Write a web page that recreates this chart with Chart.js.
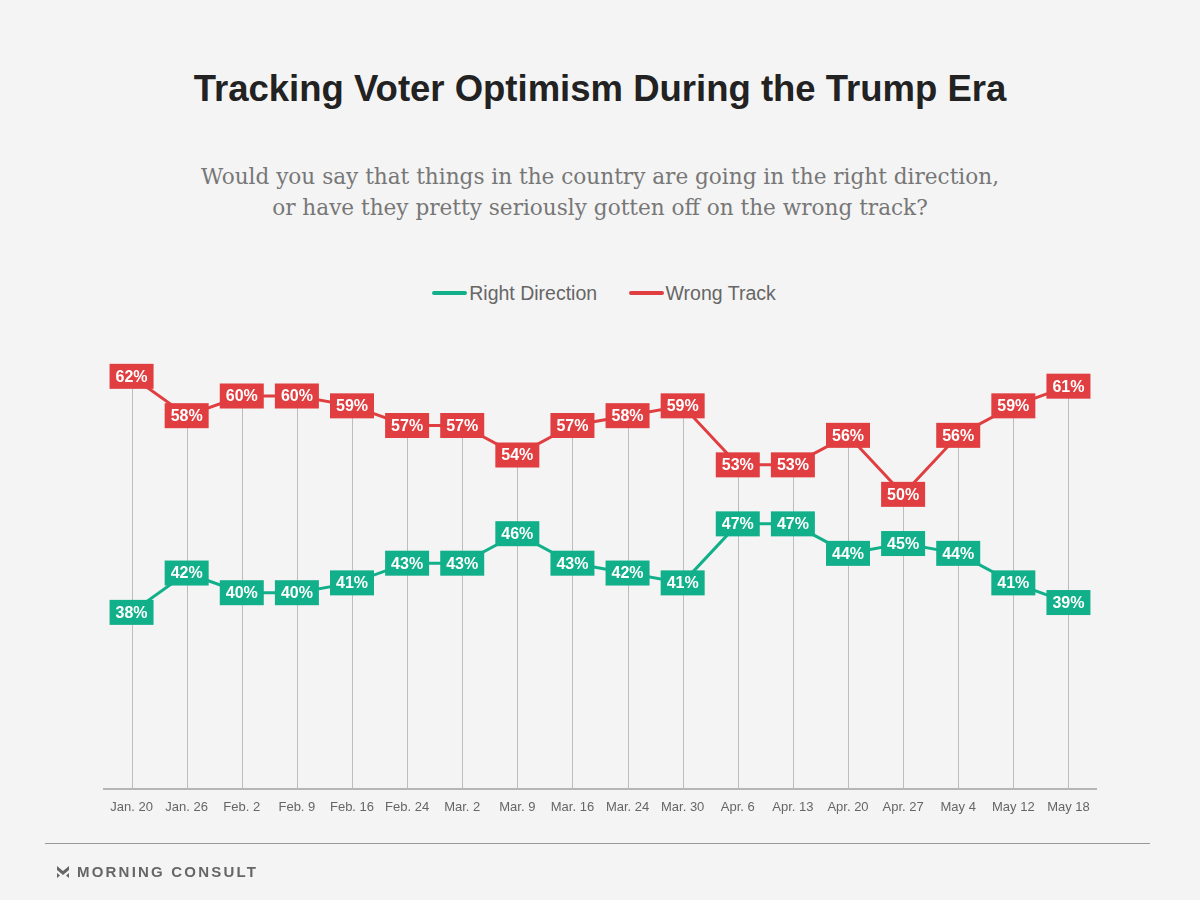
<!DOCTYPE html>
<html>
<head>
<meta charset="utf-8">
<script src="https://cdn.jsdelivr.net/npm/chart.js@4"></script>
<style>
  body { margin: 0; background: #f4f4f4; }
  #wrap { position: relative; width: 1200px; height: 900px; background: #f4f4f4; overflow: hidden; }
  #myChart { position: absolute; left: 0; top: 0; }
  h1 { position: absolute; top: 68px; left: 0; width: 1200px; margin: 0; text-align: center;
       font: bold 36.5px "Liberation Sans", Arial, sans-serif; color: #222; }
  .sub { position: absolute; top: 161px; left: 0; width: 1200px; text-align: center;
         font: 21.6px/31px "DejaVu Serif", Georgia, serif; color: #777; }
  .legend { position: absolute; top: 282px; left: 4px; width: 1200px; text-align: center;
            font: 19.5px "Liberation Sans", Arial, sans-serif; color: #666; }
  .legend span { display: inline-block; margin: 0 13px; }
  .legend i { display: inline-block; width: 35px; height: 4px; border-radius: 2px; vertical-align: middle; margin-right: 2px; position: relative; top: -2px; }
  .rule { position: absolute; top: 843px; left: 45px; width: 1105px; height: 1px; background: #999; }
  .brand { position: absolute; top: 863px; left: 56px; font: bold 15px "Liberation Sans", Arial, sans-serif;
           color: #666; letter-spacing: 2.2px; }
  .brand svg { vertical-align: -2px; margin-right: 7px; }
</style>
</head>
<body>
<div id="wrap">
  <h1>Tracking Voter Optimism During the Trump Era</h1>
  <div class="sub">Would you say that things in the country are going in the right direction,<br>or have they pretty seriously gotten off on the wrong track?</div>
  <div class="legend">
    <span><i style="background:#12b08a"></i>Right Direction</span>
    <span><i style="background:#e03e40"></i>Wrong Track</span>
  </div>
  <canvas id="myChart" width="1200" height="900"></canvas>
  <div class="rule"></div>
  <div class="brand"><svg width="14" height="14" viewBox="0 0 14 14"><path d="M1 1 L7 6 L13 1 L13 5 L7 10 L1 5 Z" fill="#666"/><path d="M1 8 L4 10.5 L1 13 Z M13 8 L10 10.5 L13 13 Z" fill="#666"/></svg>MORNING CONSULT</div>
</div>
<script>
"use strict";

const dates = ["Jan. 20", "Jan. 26", "Feb. 2", "Feb. 9", "Feb. 16", "Feb. 24", "Mar. 2", "Mar. 9", "Mar. 16",
    "Mar. 24", "Mar. 30", "Apr. 6", "Apr. 13", "Apr. 20", "Apr. 27", "May 4", "May 12", "May 18"];
const rightDirection = [38, 42, 40, 40, 41, 43, 43, 46, 43, 42, 41, 47, 47, 44, 45, 44, 41, 39];
const wrongTrack = [62, 58, 60, 60, 59, 57, 57, 54, 57, 58, 59, 53, 53, 56, 50, 56, 59, 61];

const green = "#12b08a";
const red = "#e03e40";

// vertical lines from the top point down to the axis
const dropLines = {
    id: "dropLines",
    beforeDatasetsDraw(chart) {
        const ctx = chart.ctx;
        const top = chart.getDatasetMeta(1).data;
        ctx.save();
        ctx.strokeStyle = "#bdbdbd";
        ctx.lineWidth = 1;
        top.forEach(pt => {
            const x = Math.round(pt.x) + 0.5;
            ctx.beginPath();
            ctx.moveTo(x, pt.y);
            ctx.lineTo(x, chart.chartArea.bottom);
            ctx.stroke();
        });
        ctx.restore();
    }
};

// boxed value labels
const valueBoxes = {
    id: "valueBoxes",
    afterDatasetsDraw(chart) {
        const ctx = chart.ctx;
        ctx.save();
        ctx.font = "bold 16px 'Liberation Sans', Arial, sans-serif";
        ctx.textAlign = "center";
        ctx.textBaseline = "middle";
        chart.data.datasets.forEach((ds, i) => {
            chart.getDatasetMeta(i).data.forEach((pt, j) => {
                const w = 44, h = 25;
                ctx.fillStyle = ds.borderColor;
                ctx.fillRect(pt.x - w / 2, pt.y - h / 2, w, h);
                ctx.fillStyle = "#fff";
                ctx.fillText(ds.data[j] + "%", pt.x, pt.y + 1);
            });
        });
        ctx.restore();
    }
};

new Chart(document.getElementById("myChart"), {
    type: "line",
    data: {
        labels: dates,
        datasets: [{
            label: "Right Direction",
            data: rightDirection,
            borderColor: green,
            backgroundColor: green,
            borderWidth: 3,
            pointRadius: 0,
            tension: 0
        }, {
            label: "Wrong Track",
            data: wrongTrack,
            borderColor: red,
            backgroundColor: red,
            borderWidth: 3,
            pointRadius: 0,
            tension: 0
        }]
    },
    options: {
        responsive: false,
        animation: false,
        layout: { padding: { top: 337, left: 104, right: 104, bottom: 75 } },
        plugins: {
            legend: { display: false },
            title: { display: false },
            tooltip: { enabled: false }
        },
        scales: {
            x: {
                offset: true,
                grid: { display: false, drawTicks: false },
                border: { color: "#b5b5b5", width: 2 },
                ticks: {
                    color: "#666",
                    padding: 10,
                    autoSkip: false,
                    maxRotation: 0,
                    font: { family: "'Liberation Sans', Arial, sans-serif", size: 13 }
                }
            },
            y: {
                display: false,
                min: 20,
                max: 66
            }
        }
    },
    plugins: [dropLines, valueBoxes]
});
</script>
</body>
</html>
